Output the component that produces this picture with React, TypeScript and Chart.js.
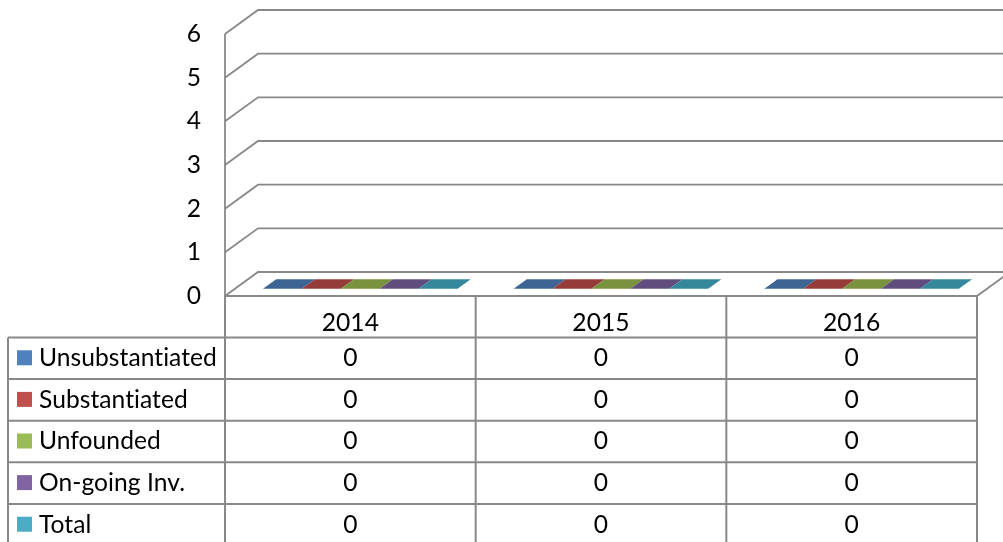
import React, { useEffect, useRef } from "react";
import { Chart, registerables } from "chart.js";

Chart.register(...registerables);

// ---- data ----
const categories = ["2014", "2015", "2016"];
const seriesNames = ["Unsubstantiated", "Substantiated", "Unfounded", "On-going Inv.", "Total"];
const unsubstantiated = [0, 0, 0];
const substantiated = [0, 0, 0];
const unfounded = [0, 0, 0];
const ongoingInv = [0, 0, 0];
const total = [0, 0, 0];
const seriesValues = [unsubstantiated, substantiated, unfounded, ongoingInv, total];
const yTickMin = 0;
const yTickMax = 6;
const yTickStep = 1;

// ---- styles ----
const LEGEND_COLORS = ["#4F81BD", "#C0504D", "#9BBB59", "#8064A2", "#4BACC6"];
const TOP_COLORS = ["#3D6593", "#953C3A", "#78923D", "#604C7D", "#35879C"];
const SIDE_COLORS = ["#385D8A", "#8C3836", "#71893A", "#5C4776", "#357D91"];
const GRID = "#888888";
const FONT = "Lato, 'Open Sans', sans-serif";
const FONT_SIZE = 24.6;
const DX = 33;
const DY = -24;
const DEPTH_FRONT = 0.3;
const DEPTH_BACK = 0.7;

const excel3d = {
  id: "excel3d",
  beforeDraw(chart: any) {
    const { ctx, chartArea: a, scales } = chart;
    const y = scales.y;
    ctx.save();
    ctx.fillStyle = "#fff";
    ctx.fillRect(0, 0, chart.width, chart.height);
    ctx.strokeStyle = GRID;
    ctx.lineWidth = 1.8;
    const y0 = y.getPixelForValue(0);
    const yTop = y.getPixelForValue(y.max);
    for (const t of y.ticks) {
      const py = y.getPixelForValue(t.value);
      ctx.beginPath();
      ctx.moveTo(a.left, py);
      ctx.lineTo(a.left + DX, py + DY);
      ctx.lineTo(a.right + DX, py + DY);
      ctx.stroke();
    }
    ctx.beginPath();
    ctx.moveTo(a.left, yTop);
    ctx.lineTo(a.left, y0);
    ctx.stroke();
    ctx.beginPath();
    ctx.moveTo(a.left, y0);
    ctx.lineTo(a.right, y0);
    ctx.lineTo(a.right + DX, y0 + DY);
    ctx.stroke();
    ctx.restore();
  },
  afterDatasetsDraw(chart: any) {
    const { ctx } = chart;
    ctx.save();
    chart.data.datasets.forEach((_: any, di: number) => {
      const meta = chart.getDatasetMeta(di);
      meta.data.forEach((el: any) => {
        const p = el.getProps(["x", "y", "base", "width"], true);
        const l = p.x - p.width / 2;
        const r = p.x + p.width / 2;
        const fx = DX * DEPTH_FRONT, fy = DY * DEPTH_FRONT;
        const bx = DX * DEPTH_BACK, by = DY * DEPTH_BACK;
        if (Math.abs(p.base - p.y) > 0.5) {
          ctx.fillStyle = LEGEND_COLORS[di];
          ctx.fillRect(l + fx, p.y + fy, p.width, p.base - p.y);
          ctx.fillStyle = SIDE_COLORS[di];
          ctx.beginPath();
          ctx.moveTo(r + fx, p.y + fy);
          ctx.lineTo(r + bx, p.y + by);
          ctx.lineTo(r + bx, p.base + by);
          ctx.lineTo(r + fx, p.base + fy);
          ctx.closePath();
          ctx.fill();
        }
        ctx.fillStyle = TOP_COLORS[di];
        ctx.beginPath();
        ctx.moveTo(l + fx, p.y + fy);
        ctx.lineTo(r + fx, p.y + fy);
        ctx.lineTo(r + bx, p.y + by);
        ctx.lineTo(l + bx, p.y + by);
        ctx.closePath();
        ctx.fill();
      });
    });
    ctx.restore();
  },
  afterDraw(chart: any) {
    const { ctx, chartArea: a, scales } = chart;
    const x = scales.x;
    const y = scales.y;
    const y0 = y.getPixelForValue(0);
    const half = (x.getPixelForValue(1) - x.getPixelForValue(0)) / 2;
    const tableLeft = 8;
    const headerBottom = y0 + 41.5;
    const rowH = 41.6;
    const nRows = seriesNames.length;
    const tableBottom = headerBottom + rowH * nRows;
    ctx.save();
    ctx.strokeStyle = GRID;
    ctx.lineWidth = 2;
    const colEdges = [a.left, ...categories.map((_, i) => x.getPixelForValue(i) + half)];
    colEdges.forEach((cx) => {
      ctx.beginPath();
      ctx.moveTo(cx, y0);
      ctx.lineTo(cx, tableBottom);
      ctx.stroke();
    });
    ctx.beginPath();
    ctx.moveTo(tableLeft, headerBottom);
    ctx.lineTo(tableLeft, tableBottom);
    ctx.stroke();
    for (let r = 0; r <= nRows; r++) {
      const ry = headerBottom + r * rowH;
      ctx.beginPath();
      ctx.moveTo(tableLeft, ry);
      ctx.lineTo(a.right, ry);
      ctx.stroke();
    }
    ctx.fillStyle = "#000";
    ctx.font = `${FONT_SIZE}px ${FONT}`;
    try {
      (ctx as any).letterSpacing = "0.05px";
    } catch (e) {}
    ctx.textBaseline = "middle";
    ctx.textAlign = "center";
    categories.forEach((c, i) => {
      ctx.fillText(c, x.getPixelForValue(i), y0 + 27);
    });
    seriesNames.forEach((name, r) => {
      const cy = headerBottom + r * rowH + rowH / 2;
      ctx.fillStyle = LEGEND_COLORS[r];
      ctx.fillRect(17, cy - 8, 15, 15);
      ctx.fillStyle = "#000";
      ctx.textAlign = "left";
      ctx.fillText(name, 39, cy);
      ctx.textAlign = "center";
      seriesValues[r].forEach((v, i) => {
        ctx.fillText(String(v), x.getPixelForValue(i), cy);
      });
    });
    ctx.restore();
  },
};

export default function App() {
  const ref = useRef<HTMLCanvasElement | null>(null);
  useEffect(() => {
    if (!ref.current) return;
    const chart = new Chart(ref.current, {
      type: "bar",
      data: {
        labels: categories,
        datasets: seriesNames.map((name, i) => ({
          label: name,
          data: seriesValues[i],
          backgroundColor: "rgba(0,0,0,0)",
          borderWidth: 0,
          categoryPercentage: 0.776,
          barPercentage: 1,
        })),
      },
      options: {
        responsive: false,
        animation: false,
        devicePixelRatio: 1,
        layout: { padding: { left: 0, top: 34, right: 26, bottom: 246 } },
        plugins: { legend: { display: false }, tooltip: { enabled: false } },
        scales: {
          x: { display: false, offset: true },
          y: {
            min: yTickMin,
            max: yTickMax,
            grid: { display: false },
            border: { display: false },
            ticks: {
              stepSize: yTickStep,
              padding: 16,
              color: "#000",
              font: { family: FONT, size: FONT_SIZE },
            },
            afterFit: (s: any) => {
              s.width = 225;
            },
          },
        },
      },
      plugins: [excel3d],
    });
    return () => chart.destroy();
  }, []);
  return (
    <div style={{ position: "absolute", left: 0, top: 0, width: 1003, height: 542 }}>
      <canvas ref={ref} width={1003} height={542} />
    </div>
  );
}
